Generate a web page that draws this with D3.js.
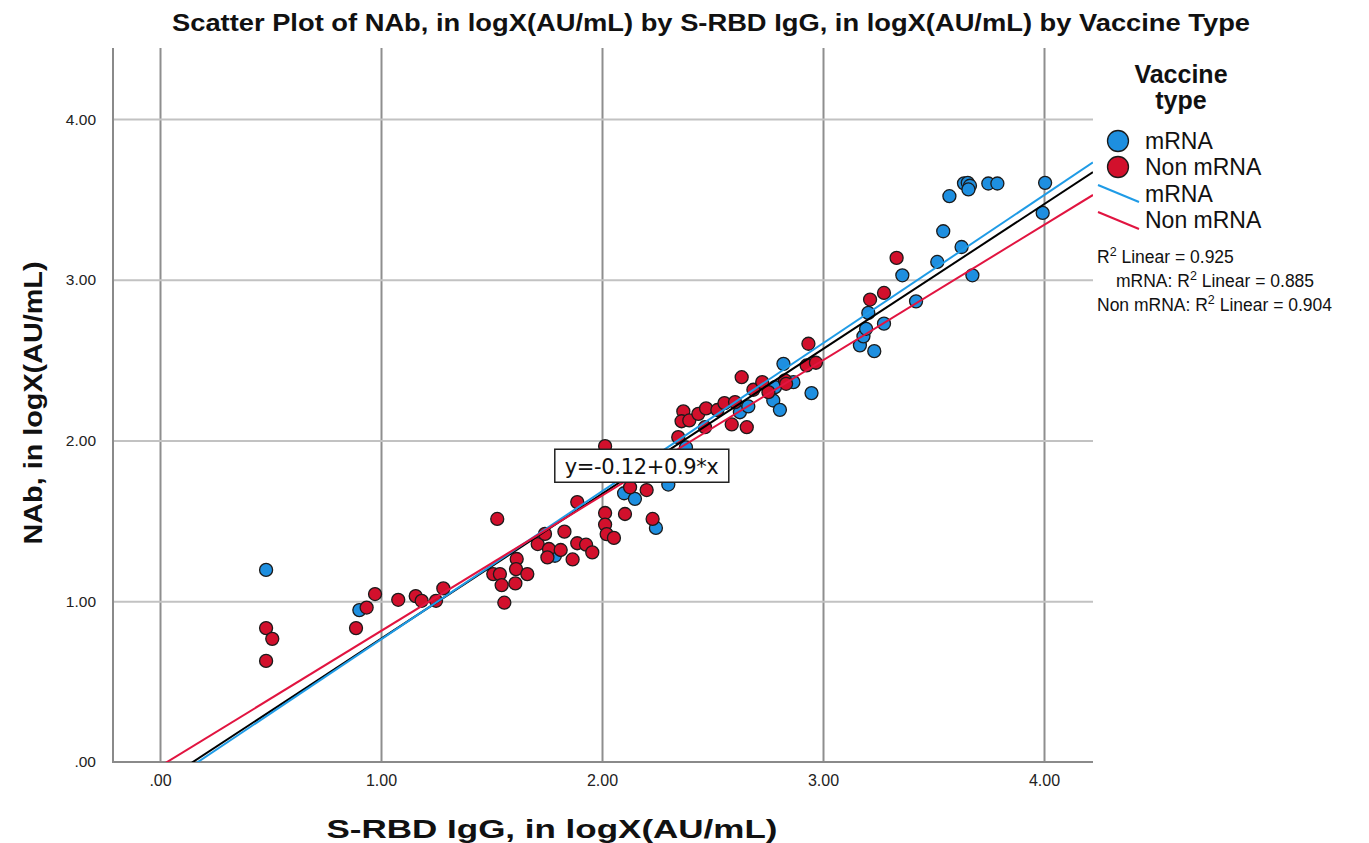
<!DOCTYPE html>
<html><head><meta charset="utf-8">
<script src="https://cdn.jsdelivr.net/npm/d3@7/dist/d3.min.js"></script>
<style>body{margin:0;background:#fff}svg{display:block}</style>
</head><body><svg id="c" width="1369" height="843"></svg>
<script>
// ---------- data ----------
const chartTitle = "Scatter Plot of NAb, in logX(AU/mL) by S-RBD IgG, in logX(AU/mL) by Vaccine Type";
const xTitle = "S-RBD IgG, in logX(AU/mL)";
const yTitle = "NAb, in logX(AU/mL)";
const xTickValues = [0, 1, 2, 3, 4];
const xTickLabels = [".00", "1.00", "2.00", "3.00", "4.00"];
const yTickValues = [0, 1, 2, 3, 4];
const yTickLabels = [".00", "1.00", "2.00", "3.00", "4.00"];
const seriesNames = ["mRNA", "Non mRNA"];

const mrnaX = [0.480,0.902,1.787,2.100,2.149,2.244,2.300,2.380,2.624,2.662,2.775,2.805,2.783,2.821,2.866,2.948,3.167,3.232,3.183,3.195,3.205,3.276,3.359,3.421,3.517,3.544,3.572,3.627,3.676,3.638,3.655,3.665,3.658,3.748,3.789,3.994,4.005];
const mrnaY = [1.195,0.945,1.283,1.672,1.637,1.456,1.726,1.957,2.176,2.212,2.249,2.191,2.332,2.477,2.363,2.295,2.592,2.556,2.648,2.695,2.794,2.727,3.028,2.866,3.111,3.302,3.520,3.204,3.028,3.600,3.603,3.585,3.562,3.599,3.599,3.416,3.603];

const nonX = [0.480,0.508,0.480,0.887,0.935,0.973,1.078,1.157,1.184,1.249,1.282,1.508,1.538,1.546,1.614,1.611,1.662,1.608,1.558,1.526,1.709,1.742,1.830,1.760,1.753,1.813,1.867,1.888,1.928,1.956,1.888,2.014,2.014,2.021,2.054,2.104,2.229,2.127,2.202,2.014,2.345,2.368,2.360,2.395,2.436,2.471,2.522,2.554,2.602,2.466,2.587,2.655,2.632,2.685,2.725,2.753,2.828,2.833,2.926,2.968,2.934,3.333,3.213,3.276];
const nonY = [0.833,0.766,0.629,0.833,0.961,1.045,1.009,1.032,1.003,1.003,1.080,1.169,1.169,1.100,1.263,1.200,1.169,1.111,0.991,1.512,1.356,1.419,1.433,1.325,1.273,1.319,1.260,1.361,1.352,1.304,1.617,1.549,1.477,1.418,1.394,1.543,1.512,1.709,1.692,1.965,2.021,2.181,2.120,2.125,2.166,2.200,2.190,2.233,2.239,2.083,2.100,2.083,2.394,2.316,2.363,2.301,2.374,2.353,2.467,2.484,2.602,3.136,2.877,2.918];

const fitNames = ["Total", "mRNA", "Non mRNA"];
const fitIntercepts = [-0.134, -0.158, -0.027];
const fitSlopes = [0.901, 0.921, 0.842];
const equationLabel = "y=-0.12+0.9*x";
const equationAt = [2.18, 1.84];
const r2Labels = ["Linear = 0.925", "Linear = 0.885", "Linear = 0.904"];
const r2Prefixes = ["", "mRNA: ", "Non mRNA: "];
const legendTitle = ["Vaccine", "type"];

// ---------- layout ----------
const plot = {left: 113, right: 1093, top: 48, bottom: 762};
const colors = {mRNA: "#1e8fe0", "Non mRNA": "#d2102c"};
const lineColors = {Total: "#000000", mRNA: "#1f9be6", "Non mRNA": "#e11440"};

const svg = d3.select("#c");
const x = d3.scaleLinear().domain([-0.2127, 4.2217]).range([plot.left, plot.right]);
const y = d3.scaleLinear().domain([0, 4.442]).range([plot.bottom, plot.top]);

// gridlines
svg.append("g").attr("transform", `translate(0,${plot.bottom})`)
  .call(d3.axisBottom(x).tickValues(xTickValues).tickSize(-(plot.bottom - plot.top)).tickFormat(""))
  .call(g => g.select(".domain").remove())
  .call(g => g.selectAll("line").attr("stroke", "#8e8e8e").attr("stroke-width", 2));
svg.append("g").attr("transform", `translate(${plot.left},0)`)
  .call(d3.axisLeft(y).tickValues(yTickValues.filter(v => v > 0)).tickSize(-(plot.right - plot.left)).tickFormat(""))
  .call(g => g.select(".domain").remove())
  .call(g => g.selectAll("line").attr("stroke", "#c2c2c2").attr("stroke-width", 2));

// axis lines
svg.append("line").attr("x1", plot.left).attr("x2", plot.left).attr("y1", plot.top).attr("y2", plot.bottom)
  .attr("stroke", "#8a8a8a").attr("stroke-width", 2);
svg.append("line").attr("x1", plot.left - 1).attr("x2", plot.right).attr("y1", plot.bottom).attr("y2", plot.bottom)
  .attr("stroke", "#8a8a8a").attr("stroke-width", 2);

// tick labels
const xAxis = svg.append("g").attr("transform", `translate(0,${plot.bottom})`)
  .call(d3.axisBottom(x).tickValues(xTickValues).tickSize(0).tickPadding(13).tickFormat((d, i) => xTickLabels[i]));
xAxis.select(".domain").remove();
xAxis.selectAll("text").attr("font-family", "'Liberation Sans Narrow','Arial Narrow','Liberation Sans',sans-serif")
  .attr("font-size", 16).attr("fill", "#222");
const yAxis = svg.append("g").attr("transform", `translate(${plot.left},0)`)
  .call(d3.axisLeft(y).tickValues(yTickValues).tickSize(0).tickPadding(17).tickFormat((d, i) => yTickLabels[i]));
yAxis.select(".domain").remove();
yAxis.selectAll("text").attr("font-family", "'Liberation Sans',Arial,sans-serif")
  .attr("font-size", 15.5).attr("fill", "#222");

// clip
svg.append("clipPath").attr("id", "clip").append("rect")
  .attr("x", plot.left).attr("y", plot.top).attr("width", plot.right - plot.left).attr("height", plot.bottom - plot.top);

// points
const pts = [];
mrnaX.forEach((v, i) => pts.push({x: v, y: mrnaY[i], s: "mRNA"}));
nonX.forEach((v, i) => pts.push({x: v, y: nonY[i], s: "Non mRNA"}));
svg.append("g").selectAll("circle").data(pts).join("circle")
  .attr("cx", d => x(d.x)).attr("cy", d => y(d.y)).attr("r", 6.5)
  .attr("fill", d => colors[d.s]).attr("stroke", "#1b1b1b").attr("stroke-width", 1.3);

// fit lines
const xd = x.domain();
const fitG = svg.append("g").attr("clip-path", "url(#clip)");
fitNames.forEach((n, i) => {
  const f = v => fitIntercepts[i] + fitSlopes[i] * v;
  fitG.append("line")
    .attr("x1", x(xd[0])).attr("y1", y(f(xd[0])))
    .attr("x2", x(xd[1])).attr("y2", y(f(xd[1])))
    .attr("stroke", lineColors[n]).attr("stroke-width", 2);
});

// equation label
const eq = svg.append("g").attr("transform", `translate(${x(equationAt[0])},${y(equationAt[1])})`);
eq.append("rect").attr("x", -87).attr("y", -17).attr("width", 174).attr("height", 33)
  .attr("fill", "#fff").attr("stroke", "#222").attr("stroke-width", 1.5);
eq.append("text").attr("text-anchor", "middle").attr("dy", "0.35em")
  .attr("font-family", "'DejaVu Sans',sans-serif").attr("font-size", 21).attr("fill", "#111")
  .attr("textLength", 154).attr("lengthAdjust", "spacing").text(equationLabel);

// titles
svg.append("text").attr("x", 711).attr("y", 31).attr("text-anchor", "middle")
  .attr("font-family", "'Liberation Sans Narrow','Arial Narrow','Liberation Sans',sans-serif")
  .attr("font-weight", "bold").attr("font-size", 24).attr("fill", "#111")
  .attr("textLength", 1078).attr("lengthAdjust", "spacingAndGlyphs").text(chartTitle);
svg.append("text").attr("x", 552).attr("y", 838).attr("text-anchor", "middle")
  .attr("font-family", "'Liberation Sans Narrow','Arial Narrow','Liberation Sans',sans-serif")
  .attr("font-weight", "bold").attr("font-size", 26).attr("fill", "#111")
  .attr("textLength", 451).attr("lengthAdjust", "spacingAndGlyphs").text(xTitle);
svg.append("text").attr("transform", "translate(42,403) rotate(-90)").attr("text-anchor", "middle")
  .attr("font-family", "'Liberation Sans',Arial,sans-serif")
  .attr("font-weight", "bold").attr("font-size", 26).attr("fill", "#111")
  .attr("textLength", 283).attr("lengthAdjust", "spacingAndGlyphs").text(yTitle);

// legend
const lg = svg.append("g");
legendTitle.forEach((t, i) => lg.append("text").attr("x", 1181).attr("y", 83 + i * 26).attr("text-anchor", "middle")
  .attr("font-family", "'Liberation Sans',Arial,sans-serif").attr("font-weight", "bold").attr("font-size", 25)
  .attr("fill", "#111").text(t));
seriesNames.forEach((s, i) => {
  lg.append("circle").attr("cx", 1118).attr("cy", 141 + i * 26).attr("r", 10.5)
    .attr("fill", colors[s]).attr("stroke", "#1b1b1b").attr("stroke-width", 1.3);
  lg.append("text").attr("x", 1145).attr("y", 141 + i * 26).attr("dy", "0.35em")
    .attr("font-family", "'Liberation Sans',Arial,sans-serif").attr("font-size", 23).attr("fill", "#111").text(s);
  lg.append("line").attr("x1", 1098).attr("y1", 185 + i * 27).attr("x2", 1139).attr("y2", 202 + i * 27)
    .attr("stroke", lineColors[s]).attr("stroke-width", 2);
  lg.append("text").attr("x", 1145).attr("y", 194 + i * 26).attr("dy", "0.35em")
    .attr("font-family", "'Liberation Sans',Arial,sans-serif").attr("font-size", 23).attr("fill", "#111").text(s);
});
const r2x = [1097, 1116, 1097];
r2Labels.forEach((t, i) => {
  const tx = lg.append("text").attr("x", r2x[i]).attr("y", 263 + i * 24)
    .attr("font-family", "'Liberation Sans',Arial,sans-serif").attr("font-size", 17.5).attr("fill", "#111");
  tx.append("tspan").text(r2Prefixes[i] + "R");
  tx.append("tspan").attr("dy", -7).attr("font-size", 12.5).text("2");
  tx.append("tspan").attr("dy", 7).text(" " + t);
});
</script></body></html>
